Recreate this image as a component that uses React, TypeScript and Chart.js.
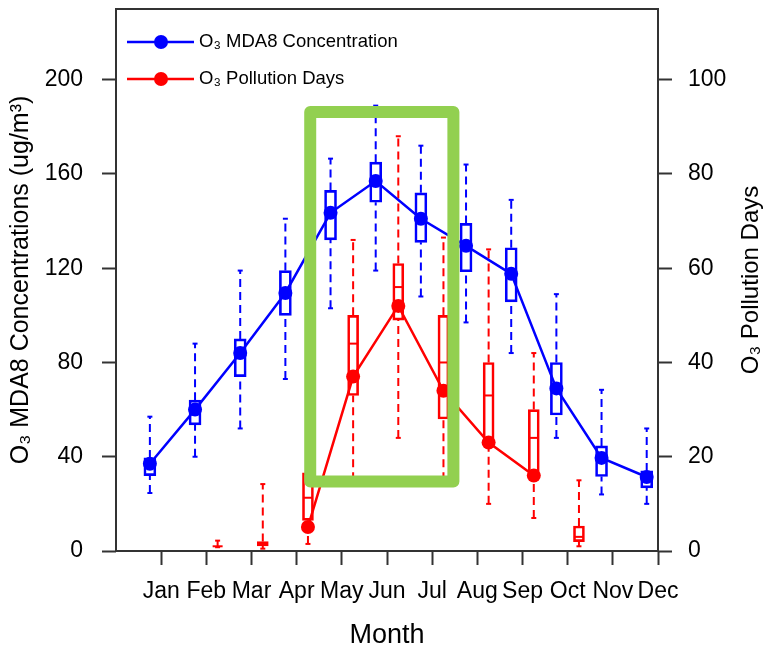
import React, { useEffect, useRef } from 'react';
import { Chart, registerables } from 'chart.js';

Chart.register(...registerables);

// ---------- data ----------
const months = ['Jan', 'Feb', 'Mar', 'Apr', 'May', 'Jun', 'Jul', 'Aug', 'Sep', 'Oct', 'Nov', 'Dec'];
const concTicks = [0, 40, 80, 120, 160, 200];
const daysTicks = [0, 20, 40, 60, 80, 100];
const concMax = 230;
const daysMax = 115;

// O3 MDA8 concentration (ug/m3), left axis
const blueMean = [37, 60, 84, 109.5, 143.5, 157, 141, 129.5, 117.6, 69, 39.5, 31.4];
const blueLow = [24.6, 40, 52, 73, 103, 119, 108, 97, 84, 48, 24, 20];
const blueQ1 = [32, 53.5, 74, 100, 132, 148, 131, 118.5, 105.7, 57.7, 31.6, 26.8];
const blueMedian = [36, 60, 83, 109, 143, 157, 141, 129, 117, 69, 39, 31];
const blueQ3 = [39.5, 64, 90, 119, 153, 165, 152, 139, 128.7, 80, 44.6, 34];
const blueHigh = [57, 88, 119, 141, 166.5, 189, 172, 164, 149, 109, 68.4, 52];

// O3 pollution days, right axis
const redMean = [null, null, null, 5.1, 37, 52, 34, 23, 16, null, null, null];
const redLow = [null, 0.8, 0.5, 1.5, 15, 24, 15, 10, 7, 1, null, null];
const redQ1 = [null, 1, 1.1, 6.5, 33, 49, 28, 23.5, 16, 2, null, null];
const redMedian = [null, 1, 1.5, 11.3, 44, 56, 40, 33, 24, 3, null, null];
const redQ3 = [null, 1, 2, 16.6, 50, 61, 50, 40, 30, 5.3, null, null];
const redHigh = [null, 2.2, 14.2, 22, 66, 88, 66.5, 64, 42, 15, null, null];

const seriesLabels = ['O\u2083 MDA8 Concentration', 'O\u2083 Pollution Days'];
const leftTitle = 'O\u2083 MDA8 Concentrations (ug/m\u00B3)';
const rightTitle = 'O\u2083 Pollution Days';
const xTitle = 'Month';

// highlighted period (x in month units, y in concentration units)
const highlightX = [4.3, 7.47];
const highlightY = [29.5, 186.3];

// ---------- styles ----------
const BLUE = '#0000ff';
const RED = '#ff0000';
const GREEN = '#92d050';
const AXIS = '#333333';
const FONT = "'Liberation Sans', Arial, Helvetica, sans-serif";
const BLUE_OFF = -0.25;
const RED_OFF = 0.25;

type V = number | null;

function meanData(vals: V[], off: number) {
  return vals.map((v, i) => ({ x: i + 1 + off, y: v }));
}
function boxData(q1: V[], q3: V[], off: number) {
  const out: any[] = [];
  q1.forEach((v, i) => {
    if (v == null || q3[i] == null) return;
    out.push({ x: i + 1 + off, y: [v, q3[i]] });
  });
  return out;
}
function whisker(lo: V[], q1: V[], q3: V[], hi: V[], off: number, cap: number) {
  const pts: any[] = [];
  const radii: number[] = [];
  lo.forEach((l, i) => {
    if (l == null) return;
    const x = i + 1 + off;
    pts.push({ x, y: l }, { x, y: q1[i] }, { x, y: null }, { x, y: q3[i] }, { x, y: hi[i] }, { x, y: null });
    radii.push(cap, 0, 0, 0, cap, 0);
  });
  return { pts, radii };
}

const zeroPad = (s: any) => {
  s.paddingTop = 0;
  s.paddingBottom = 0;
  s.paddingLeft = 0;
  s.paddingRight = 0;
};

const frameAndExtrasPlugin = {
  id: 'frameAndExtras',
  afterDatasetsDraw(chart: any) {
    const { ctx, scales } = chart;
    const xs = scales.x;
    const ys = scales.y;
    const l = xs.getPixelForValue(highlightX[0]);
    const r = xs.getPixelForValue(highlightX[1]);
    const t = ys.getPixelForValue(highlightY[1]);
    const b = ys.getPixelForValue(highlightY[0]);
    ctx.save();
    ctx.strokeStyle = GREEN;
    ctx.lineWidth = 12;
    ctx.lineJoin = 'round';
    ctx.strokeRect(l, t, r - l, b - t);
    ctx.restore();
  },
  afterDraw(chart: any) {
    const { ctx, chartArea } = chart;
    ctx.save();
    // frame
    ctx.strokeStyle = AXIS;
    ctx.lineWidth = 2;
    ctx.strokeRect(chartArea.left, chartArea.top, chartArea.right - chartArea.left, chartArea.bottom - chartArea.top);

    // right axis title (reads bottom-to-top)
    ctx.fillStyle = '#000';
    ctx.font = `24px ${FONT}`;
    ctx.textAlign = 'center';
    ctx.textBaseline = 'middle';
    ctx.translate(chart.width - 15, (chartArea.top + chartArea.bottom) / 2);
    ctx.rotate(-Math.PI / 2);
    ctx.fillText(rightTitle, 0, 0);
    ctx.restore();

    // legend
    ctx.save();
    const ds = chart.data.datasets;
    [0, 1].forEach((k) => {
      const d = ds[k];
      const y = chartArea.top + 33 + k * 37;
      const x0 = chartArea.left + 11;
      ctx.strokeStyle = d.borderColor;
      ctx.lineWidth = 2.5;
      ctx.beginPath();
      ctx.moveTo(x0, y);
      ctx.lineTo(x0 + 67, y);
      ctx.stroke();
      ctx.fillStyle = d.borderColor;
      ctx.beginPath();
      ctx.arc(x0 + 34, y, 7, 0, Math.PI * 2);
      ctx.fill();
      ctx.fillStyle = '#000';
      ctx.font = `18.5px ${FONT}`;
      ctx.textAlign = 'left';
      ctx.textBaseline = 'middle';
      ctx.fillText(d.label, x0 + 72, y);
    });
    ctx.restore();
  },
};

export default function App() {
  const ref = useRef<HTMLCanvasElement | null>(null);

  useEffect(() => {
    document.body.style.margin = '0';
    const canvas = ref.current;
    if (!canvas) return;

    const bw = whisker(blueLow, blueQ1, blueQ3, blueHigh, BLUE_OFF, 2.5);
    const rw = whisker(redLow, redQ1, redQ3, redHigh, RED_OFF, 2.5);

    const gridCfg = {
      drawOnChartArea: false,
      drawTicks: true,
      tickLength: 14,
      tickWidth: 2,
      tickColor: AXIS,
    };

    const chart = new Chart(canvas, {
      type: 'line',
      data: {
        datasets: [
          {
            type: 'line',
            label: seriesLabels[0],
            data: meanData(blueMean, BLUE_OFF),
            borderColor: BLUE,
            backgroundColor: BLUE,
            borderWidth: 2.5,
            pointRadius: 7,
            pointBorderWidth: 0,
            pointBackgroundColor: BLUE,
            yAxisID: 'y',
          },
          {
            type: 'line',
            label: seriesLabels[1],
            data: meanData(redMean, RED_OFF),
            borderColor: RED,
            backgroundColor: RED,
            borderWidth: 2.5,
            pointRadius: 7,
            pointBorderWidth: 0,
            pointBackgroundColor: RED,
            spanGaps: false,
            yAxisID: 'y1',
          },
          {
            type: 'line',
            label: 'blue median',
            data: meanData(blueMedian, BLUE_OFF),
            showLine: false,
            pointStyle: 'line',
            pointRadius: 6,
            pointBorderWidth: 2,
            pointBorderColor: BLUE,
            yAxisID: 'y',
          },
          {
            type: 'line',
            label: 'red median',
            data: meanData(redMedian, RED_OFF),
            showLine: false,
            pointStyle: 'line',
            pointRadius: 5,
            pointBorderWidth: 2,
            pointBorderColor: RED,
            yAxisID: 'y1',
          },
          {
            type: 'bar',
            label: 'blue box',
            data: boxData(blueQ1, blueQ3, BLUE_OFF),
            backgroundColor: 'rgba(0,0,0,0)',
            borderColor: BLUE,
            borderWidth: 2,
            borderSkipped: false,
            barThickness: 12,
            grouped: true,
            skipNull: true,
            yAxisID: 'y',
          } as any,
          {
            type: 'bar',
            label: 'red box',
            data: boxData(redQ1, redQ3, RED_OFF),
            backgroundColor: 'rgba(0,0,0,0)',
            borderColor: RED,
            borderWidth: 2,
            borderSkipped: false,
            barThickness: 11,
            grouped: true,
            skipNull: true,
            yAxisID: 'y1',
          } as any,
          {
            type: 'line',
            label: 'blue whiskers',
            data: bw.pts,
            borderColor: BLUE,
            borderWidth: 2,
            borderDash: [8, 5],
            spanGaps: false,
            pointStyle: 'line',
            pointRadius: bw.radii,
            pointBorderWidth: 2,
            pointBorderColor: BLUE,
            yAxisID: 'y',
          },
          {
            type: 'line',
            label: 'red whiskers',
            data: rw.pts,
            borderColor: RED,
            borderWidth: 2,
            borderDash: [8, 5],
            spanGaps: false,
            pointStyle: 'line',
            pointRadius: rw.radii,
            pointBorderWidth: 2,
            pointBorderColor: RED,
            yAxisID: 'y1',
          },
        ] as any,
      },
      options: {
        animation: false,
        responsive: false,
        devicePixelRatio: 1,
        layout: { padding: { top: 9, left: 0, right: 0, bottom: 0 } },
        plugins: {
          legend: { display: false },
          tooltip: { enabled: false },
        },
        scales: {
          x: {
            type: 'linear',
            min: 0,
            max: 12,
            offset: false,
            afterBuildTicks: (s: any) => {
              s.ticks = months.map((_, i) => ({ value: i + 1 }));
            },
            afterFit: (s: any) => {
              s.height = 99;
              zeroPad(s);
            },
            ticks: {
              autoSkip: false,
              maxRotation: 0,
              minRotation: 0,
              padding: 13,
              color: '#000',
              font: { family: FONT, size: 23 },
              callback: (v: any) => months[Math.round(Number(v)) - 1] ?? '',
            },
            grid: { ...gridCfg, offset: false },
            border: { display: false },
            title: {
              display: true,
              text: xTitle,
              color: '#000',
              font: { family: FONT, size: 27, lineHeight: 1 },
              padding: { top: 0, bottom: 1 },
            },
          },
          y: {
            type: 'linear',
            position: 'left',
            min: 0,
            max: concMax,
            afterBuildTicks: (s: any) => {
              s.ticks = concTicks.map((v) => ({ value: v }));
            },
            afterFit: (s: any) => {
              s.width = 116;
              zeroPad(s);
            },
            ticks: { padding: 19, color: '#000', font: { family: FONT, size: 23 } },
            grid: gridCfg,
            border: { display: false },
            title: {
              display: true,
              text: leftTitle,
              color: '#000',
              font: { family: FONT, size: 25, lineHeight: 1 },
              padding: { top: 9, bottom: 0 },
            },
          },
          y1: {
            type: 'linear',
            position: 'right',
            min: 0,
            max: daysMax,
            afterBuildTicks: (s: any) => {
              s.ticks = daysTicks.map((v) => ({ value: v }));
            },
            afterFit: (s: any) => {
              s.width = 108;
              zeroPad(s);
            },
            ticks: { padding: 16, color: '#000', font: { family: FONT, size: 23 } },
            grid: gridCfg,
            border: { display: false },
            title: { display: false },
          },
        },
      } as any,
      plugins: [frameAndExtrasPlugin],
    });

    return () => {
      chart.destroy();
    };
  }, []);

  return <canvas ref={ref} width={766} height={650} style={{ display: 'block' }} />;
}
